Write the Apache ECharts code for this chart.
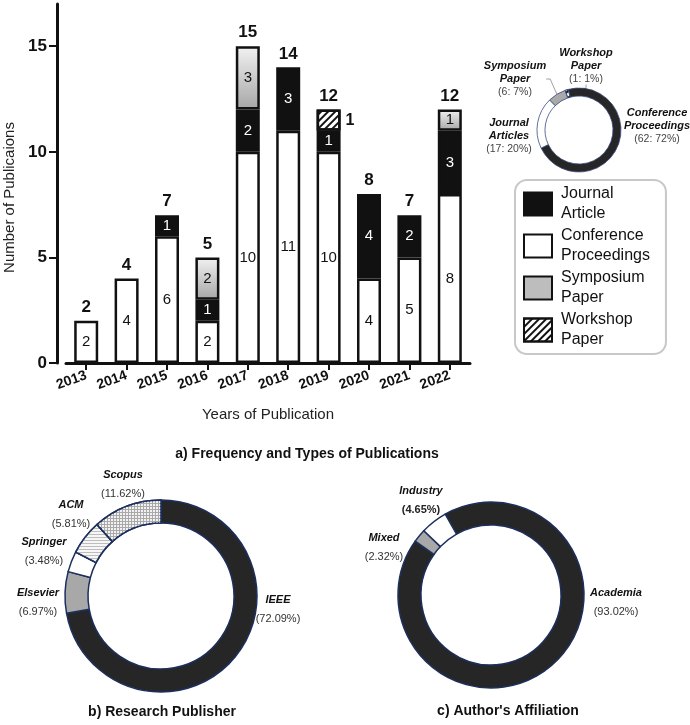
<!DOCTYPE html>
<html>
<head>
<meta charset="utf-8">
<script src="https://cdn.jsdelivr.net/npm/echarts@6/dist/echarts.min.js"></script>
<style>html,body{margin:0;padding:0;background:#fff}#c{width:690px;height:725px}</style>
</head>
<body>
<div id="c"></div>
<script>
// ---- data ----
const years = ['2013','2014','2015','2016','2017','2018','2019','2020','2021','2022'];
const conference = [2, 4, 6, 2, 10, 11, 10, 4, 5, 8];
const journal    = [0, 0, 1, 1, 2, 3, 1, 4, 2, 3];
const symposium  = [0, 0, 0, 2, 3, 0, 0, 0, 0, 1];
const workshop   = [0, 0, 0, 0, 0, 0, 1, 0, 0, 0];
const yTicks = [0, 5, 10, 15];

const typeNames  = ['Conference\nProceedings', 'Journal\nArticles', 'Symposium\nPaper', 'Workshop\nPaper'];
const typeCounts = [62, 17, 6, 1];

const publisherNames = ['IEEE', 'Elsevier', 'Springer', 'ACM', 'Scopus'];
const publisherPct   = [72.09, 6.97, 3.48, 5.81, 11.62];

const affiliationNames = ['Academia', 'Mixed', 'Industry'];
const affiliationPct   = [93.02, 2.32, 4.65];

// ---- derived ----
const totals = years.map((_, i) => conference[i] + journal[i] + symposium[i] + workshop[i]);
const nz = a => a.map(v => (v === 0 ? null : v));
const font = 'Liberation Sans, Arial, Helvetica, sans-serif';

const hatch = { symbol: 'rect', symbolSize: 1, dashArrayX: [1, 0], dashArrayY: [2, 3], rotation: -Math.PI / 4, color: '#111' };
const symGrad = new echarts.graphic.LinearGradient(0, 0, 0, 1, [
  { offset: 0, color: '#f2f2f2' }, { offset: 1, color: '#a6a6a6' }
]);

const segLabel = (color) => ({ show: true, position: 'inside', color: color, fontSize: 15, fontFamily: font });
const barBase = { type: 'bar', stack: 'pubs', barWidth: 24, animation: false };

const chart = echarts.init(document.getElementById('c'), null, { renderer: 'canvas' });

const smallPos = [[657, 126], [509, 136], [515, 79], [586, 66]];
const pubPos = [[278, 609], [38, 602], [44, 551], [71, 514], [123, 484]];
const affPos = [[616, 602], [384, 547], [421, 500]];

const richSmall = {
  n: { fontStyle: 'italic', fontWeight: 'bold', fontSize: 11, color: '#111', lineHeight: 13, fontFamily: font, align: 'center' },
  v: { fontSize: 10.5, color: '#444', lineHeight: 13, fontFamily: font, align: 'center' }
};
const richBig = {
  n: { fontStyle: 'italic', fontWeight: 'bold', fontSize: 11, color: '#111', lineHeight: 19, fontFamily: font, align: 'center' },
  v: { fontSize: 11, color: '#333', lineHeight: 19, fontFamily: font, align: 'center' },
  vb: { fontSize: 11, fontWeight: 'bold', color: '#222', lineHeight: 19, fontFamily: font, align: 'center' }
};

const option = {
  animation: false,
  textStyle: { fontFamily: font },
  title: [
    { text: 'a) Frequency and Types of Publications', left: 307, top: 447, textAlign: 'center', padding: 0,
      textStyle: { fontSize: 14, fontWeight: 'bold', color: '#111', fontFamily: font } },
    { text: 'b) Research Publisher', left: 162, top: 705, textAlign: 'center', padding: 0,
      textStyle: { fontSize: 14, fontWeight: 'bold', color: '#111', fontFamily: font } },
    { text: "c) Author's Affiliation", left: 508, top: 704, textAlign: 'center', padding: 0,
      textStyle: { fontSize: 14, fontWeight: 'bold', color: '#111', fontFamily: font } }
  ],
  legend: {
    data: [
      { name: 'Journal Article' },
      { name: 'Conference Proceedings' },
      { name: 'Symposium Paper', itemStyle: { color: '#bdbdbd' } },
      { name: 'Workshop Paper' }
    ],
    orient: 'vertical', left: 515, top: 180,
    itemWidth: 28, itemHeight: 23, itemGap: 2,
    padding: [4, 16, 4, 8],
    borderColor: '#c8c8c8', borderWidth: 2, borderRadius: 12,
    icon: 'rect', selectedMode: false,
    formatter: n => n.replace(' ', '\n'),
    textStyle: { fontSize: 16, lineHeight: 20, color: '#111', fontFamily: font, padding: [0, 0, 0, 4] }
  },
  grid: { left: 66, right: 220, top: 4, bottom: 362, containLabel: false, outerBoundsMode: 'none' },
  xAxis: {
    type: 'category', data: years,
    axisLine: { show: true, lineStyle: { color: '#111', width: 3 } },
    axisTick: { show: true, alignWithLabel: true, interval: 0, length: 7, lineStyle: { color: '#111', width: 2 } },
    axisLabel: { interval: 0, rotate: 20, fontWeight: 'bold', fontSize: 14, color: '#111', margin: 12, fontFamily: font, hideOverlap: false },
    splitLine: { show: false },
    name: 'Years of Publication', nameLocation: 'middle', nameGap: 44,
    nameTextStyle: { fontSize: 15, color: '#222', fontFamily: font }
  },
  yAxis: {
    type: 'value', min: 0, max: 17, interval: 5, offset: 9,
    axisLine: { show: true, lineStyle: { color: '#111', width: 3 } },
    axisTick: { show: true, length: 8, customValues: yTicks, lineStyle: { color: '#111', width: 2 } },
    axisLabel: { fontWeight: 'bold', fontSize: 17, color: '#111', margin: 10, fontFamily: font, customValues: yTicks },
    splitLine: { show: false },
    name: 'Number of Publicaions', nameLocation: 'middle', nameGap: 32,
    nameTextStyle: { fontSize: 15, color: '#222', fontFamily: font, padding: [0, 28, 0, 0] }
  },
  series: [
    Object.assign({}, barBase, {
      name: 'Conference Proceedings', data: nz(conference),
      itemStyle: { color: '#fff', borderColor: '#111', borderWidth: 2.5 },
      label: segLabel('#111')
    }),
    Object.assign({}, barBase, {
      name: 'Journal Article', data: nz(journal),
      itemStyle: { color: '#111', borderColor: '#111', borderWidth: 2.5 },
      label: segLabel('#fff')
    }),
    Object.assign({}, barBase, {
      name: 'Symposium Paper', data: nz(symposium),
      itemStyle: { color: symGrad, borderColor: '#111', borderWidth: 2.5 },
      label: segLabel('#111')
    }),
    Object.assign({}, barBase, {
      name: 'Workshop Paper', data: nz(workshop),
      itemStyle: { color: '#fff', borderColor: '#111', borderWidth: 2.5, decal: hatch },
      label: { show: true, position: 'right', distance: 5, fontWeight: 'bold', fontSize: 16, color: '#111', fontFamily: font }
    }),
    Object.assign({}, barBase, {
      name: 'Total', data: totals.map(() => 0), silent: true,
      itemStyle: { color: 'rgba(0,0,0,0)', borderWidth: 0 },
      label: { show: true, position: 'top', distance: 5, formatter: p => String(totals[p.dataIndex]),
        fontWeight: 'bold', fontSize: 17, color: '#111', fontFamily: font }
    }),
    {
      type: 'pie', name: 'Types', center: [579, 130], radius: [34, 42], startAngle: 105, clockwise: true,
      avoidLabelOverlap: false, minShowLabelAngle: 0, percentPrecision: 0, silent: true,
      itemStyle: { borderColor: '#3a4d80', borderWidth: 0.8 },
      data: typeNames.map((n, i) => ({
        name: n, value: typeCounts[i],
        itemStyle: [{ color: '#262626' }, { color: '#fff' }, { color: '#a9a9a9' }, { color: '#fff', decal: hatch }][i],
        labelLine: { show: i >= 2 }
      })),
      label: {
        show: true, position: 'outside', align: 'center',
        formatter: p => p.name.split('\n').map(s => '{n|' + s + '}').join('\n') + '\n{v|(' + p.value + ': ' + p.percent + '%)}',
        rich: richSmall
      },
      labelLine: { show: false, length: 4, length2: 4, lineStyle: { color: '#888', width: 0.8 } },
      labelLayout: p => ({ x: smallPos[p.dataIndex][0], y: smallPos[p.dataIndex][1], align: 'center', verticalAlign: 'middle' })
    },
    {
      type: 'pie', name: 'Publisher', center: [161, 596], radius: [73, 96], startAngle: 90, clockwise: true,
      avoidLabelOverlap: false, minShowLabelAngle: 0, silent: true,
      itemStyle: { borderColor: '#1c2f5e', borderWidth: 1.5 },
      data: publisherNames.map((n, i) => ({
        name: n, value: publisherPct[i],
        itemStyle: [
          { color: '#262626' },
          { color: '#a8a8a8' },
          { color: '#fff' },
          { color: '#f6f6f6', decal: { symbol: 'rect', symbolSize: 1, dashArrayX: [1, 0], dashArrayY: [1, 2], color: '#bdbdbd' } },
          { color: '#a9a9a9', decal: { symbol: 'rect', symbolSize: 1, dashArrayX: [2, 1], dashArrayY: [2, 1], color: '#f2f2f2' } }
        ][i]
      })),
      label: {
        show: true, position: 'outside', align: 'center',
        formatter: p => '{n|' + p.name + '}\n{v|(' + p.value.toFixed(2) + '%)}',
        rich: richBig
      },
      labelLine: { show: false },
      labelLayout: p => ({ x: pubPos[p.dataIndex][0], y: pubPos[p.dataIndex][1], align: 'center', verticalAlign: 'middle' })
    },
    {
      type: 'pie', name: 'Affiliation', center: [491, 595], radius: [70, 93], startAngle: 119.5, clockwise: true,
      avoidLabelOverlap: false, minShowLabelAngle: 0, silent: true,
      itemStyle: { borderColor: '#1c2f5e', borderWidth: 1.5 },
      data: affiliationNames.map((n, i) => ({
        name: n, value: affiliationPct[i],
        itemStyle: [{ color: '#262626' }, { color: '#a8a8a8' }, { color: '#fff' }][i]
      })),
      label: {
        show: true, position: 'outside', align: 'center',
        formatter: p => '{n|' + p.name + '}\n{' + (p.name === 'Industry' ? 'vb' : 'v') + '|(' + p.value.toFixed(2) + '%)}',
        rich: richBig
      },
      labelLine: { show: false },
      labelLayout: p => ({ x: affPos[p.dataIndex][0], y: affPos[p.dataIndex][1], align: 'center', verticalAlign: 'middle' })
    }
  ]
};
chart.setOption(option);
</script>
</body>
</html>
